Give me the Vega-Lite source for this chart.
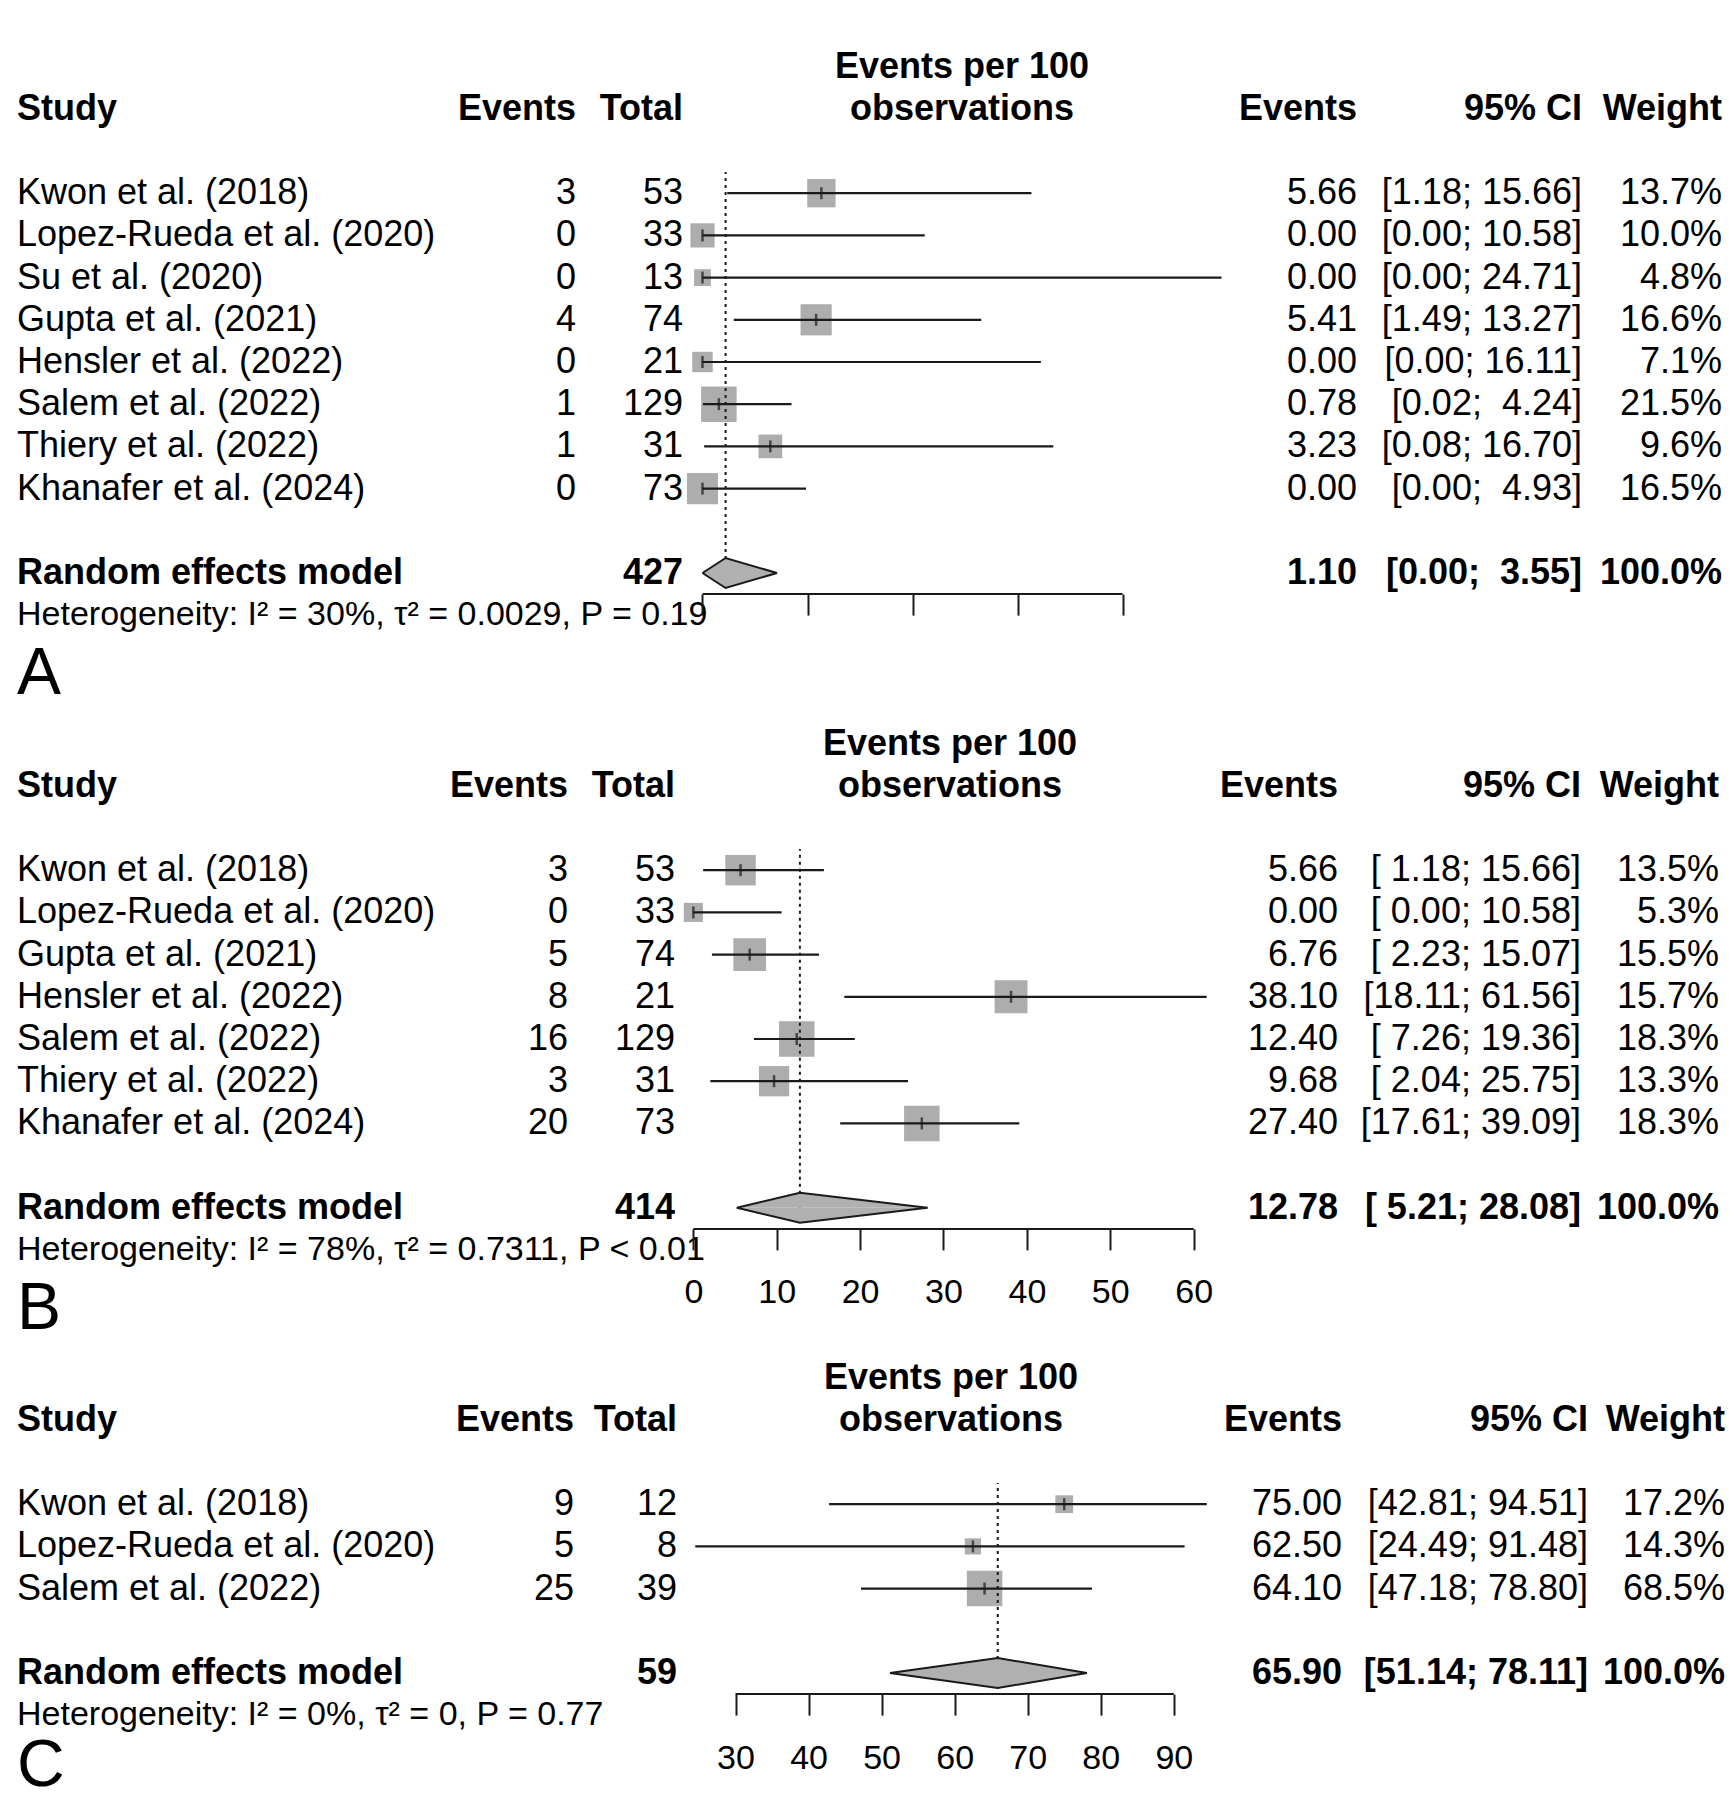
{
"$schema": "https://vega.github.io/schema/vega-lite/v6.json",
"padding": {"left": 17, "top": 45.5, "right": 0, "bottom": 0},
"background": "white",
"bounds": "full",
"spacing": 1,
"resolve": {"scale": {"size": "independent"}},
"config": {
  "view": {"stroke": null},
  "text": {"font": "Liberation Sans", "fontSize": 36, "color": "#000", "baseline": "middle"},
  "axis": {"labelFont": "Liberation Sans", "labelColor": "#000"}
},
"datasets": {
  "A": [
    {"row":"s1","kind":"study","study":"Kwon et al. (2018)","events":3,"total":53,"est":5.66,"lo":1.18,"hi":15.66,"ci":"[1.18; 15.66]","weight":0.137},
    {"row":"s2","kind":"study","study":"Lopez-Rueda et al. (2020)","events":0,"total":33,"est":0.00,"lo":0.00,"hi":10.58,"ci":"[0.00; 10.58]","weight":0.100},
    {"row":"s3","kind":"study","study":"Su et al. (2020)","events":0,"total":13,"est":0.00,"lo":0.00,"hi":24.71,"ci":"[0.00; 24.71]","weight":0.048},
    {"row":"s4","kind":"study","study":"Gupta et al. (2021)","events":4,"total":74,"est":5.41,"lo":1.49,"hi":13.27,"ci":"[1.49; 13.27]","weight":0.166},
    {"row":"s5","kind":"study","study":"Hensler et al. (2022)","events":0,"total":21,"est":0.00,"lo":0.00,"hi":16.11,"ci":"[0.00; 16.11]","weight":0.071},
    {"row":"s6","kind":"study","study":"Salem et al. (2022)","events":1,"total":129,"est":0.78,"lo":0.02,"hi":4.24,"ci":"[0.02;\u00a0\u00a04.24]","weight":0.215},
    {"row":"s7","kind":"study","study":"Thiery et al. (2022)","events":1,"total":31,"est":3.23,"lo":0.08,"hi":16.70,"ci":"[0.08; 16.70]","weight":0.096},
    {"row":"s8","kind":"study","study":"Khanafer et al. (2024)","events":0,"total":73,"est":0.00,"lo":0.00,"hi":4.93,"ci":"[0.00;\u00a0\u00a04.93]","weight":0.165},
    {"row":"RE","kind":"summary","study":"Random effects model","total":427,"est":1.10,"lo":0.00,"hi":3.55,"ci":"[0.00;\u00a0\u00a03.55]","weight":1.0}
  ],
  "Adia": [{"vertex":"lower","x":0.00,"peak":0},{"vertex":"estimate","x":1.10,"peak":1},{"vertex":"upper","x":3.55,"peak":0}],
  "B": [
    {"row":"s1","kind":"study","study":"Kwon et al. (2018)","events":3,"total":53,"est":5.66,"lo":1.18,"hi":15.66,"ci":"[\u00a01.18; 15.66]","weight":0.135},
    {"row":"s2","kind":"study","study":"Lopez-Rueda et al. (2020)","events":0,"total":33,"est":0.00,"lo":0.00,"hi":10.58,"ci":"[\u00a00.00; 10.58]","weight":0.053},
    {"row":"s3","kind":"study","study":"Gupta et al. (2021)","events":5,"total":74,"est":6.76,"lo":2.23,"hi":15.07,"ci":"[\u00a02.23; 15.07]","weight":0.155},
    {"row":"s4","kind":"study","study":"Hensler et al. (2022)","events":8,"total":21,"est":38.10,"lo":18.11,"hi":61.56,"ci":"[18.11; 61.56]","weight":0.157},
    {"row":"s5","kind":"study","study":"Salem et al. (2022)","events":16,"total":129,"est":12.40,"lo":7.26,"hi":19.36,"ci":"[\u00a07.26; 19.36]","weight":0.183},
    {"row":"s6","kind":"study","study":"Thiery et al. (2022)","events":3,"total":31,"est":9.68,"lo":2.04,"hi":25.75,"ci":"[\u00a02.04; 25.75]","weight":0.133},
    {"row":"s7","kind":"study","study":"Khanafer et al. (2024)","events":20,"total":73,"est":27.40,"lo":17.61,"hi":39.09,"ci":"[17.61; 39.09]","weight":0.183},
    {"row":"RE","kind":"summary","study":"Random effects model","total":414,"est":12.78,"lo":5.21,"hi":28.08,"ci":"[\u00a05.21; 28.08]","weight":1.0}
  ],
  "Bdia": [{"vertex":"lower","x":5.21,"peak":0},{"vertex":"estimate","x":12.78,"peak":1},{"vertex":"upper","x":28.08,"peak":0}],
  "C": [
    {"row":"s1","kind":"study","study":"Kwon et al. (2018)","events":9,"total":12,"est":75.00,"lo":42.81,"hi":94.51,"ci":"[42.81; 94.51]","weight":0.172},
    {"row":"s2","kind":"study","study":"Lopez-Rueda et al. (2020)","events":5,"total":8,"est":62.50,"lo":24.49,"hi":91.48,"ci":"[24.49; 91.48]","weight":0.143},
    {"row":"s3","kind":"study","study":"Salem et al. (2022)","events":25,"total":39,"est":64.10,"lo":47.18,"hi":78.80,"ci":"[47.18; 78.80]","weight":0.685},
    {"row":"RE","kind":"summary","study":"Random effects model","total":59,"est":65.90,"lo":51.14,"hi":78.11,"ci":"[51.14; 78.11]","weight":1.0}
  ],
  "Cdia": [{"vertex":"lower","x":51.14,"peak":0},{"vertex":"estimate","x":65.90,"peak":1},{"vertex":"upper","x":78.11,"peak":0}]
},
"vconcat": [
{
  "bounds": "flush", "spacing": 0,
  "data": {"name": "A"},
  "hconcat": [
    {"width": 559, "height": 675.2,
     "encoding": {"y": {"field":"row","type":"nominal","scale":{"type":"band","domain":["h1","h0","b1","s1","s2","s3","s4","s5","s6","s7","s8","b2","RE","het","tl","lab"],"paddingInner":0,"paddingOuter":0},"axis":null}},
     "layer": [
       {"data":{"values":[{"row":"h0","label":"Study"}]},"mark":{"type":"text","align":"left","fontWeight":"bold"},"encoding":{"x":{"value":0},"text":{"field":"label","type":"nominal"}}},
       {"data":{"values":[{"row":"h0","label":"Events"}]},"mark":{"type":"text","align":"right","fontWeight":"bold"},"encoding":{"x":{"value":"width"},"text":{"field":"label","type":"nominal"}}},
       {"transform":[{"filter":"datum.kind == 'study'"}],"mark":{"type":"text","align":"left"},"encoding":{"x":{"value":0},"text":{"field":"study","type":"nominal"}}},
       {"transform":[{"filter":"datum.kind == 'summary'"}],"mark":{"type":"text","align":"left","fontWeight":"bold"},"encoding":{"x":{"value":0},"text":{"field":"study","type":"nominal"}}},
       {"transform":[{"filter":"datum.kind == 'study'"}],"mark":{"type":"text","align":"right"},"encoding":{"x":{"value":"width"},"text":{"field":"events","type":"quantitative"}}},
       {"data":{"values":[{"row":"het","label":"Heterogeneity: I² = 30%, τ² = 0.0029, P = 0.19"}]},"mark":{"type":"text","align":"left","fontSize":34},"encoding":{"x":{"value":0},"text":{"field":"label","type":"nominal"}}},
       {"data":{"values":[{"row":"tl","label":"A"}]},"mark":{"type":"text","align":"left","fontSize":66},"encoding":{"x":{"value":0},"y":{"field":"row","type":"nominal","bandPosition":0.9,"scale":{"type":"band","domain":["h1","h0","b1","s1","s2","s3","s4","s5","s6","s7","s8","b2","RE","het","tl","lab"],"paddingInner":0,"paddingOuter":0},"axis":null},"text":{"field":"label","type":"nominal"}}}
     ]},
    {"width": 107, "height": 675.2,
     "encoding": {"y": {"field":"row","type":"nominal","scale":{"type":"band","domain":["h1","h0","b1","s1","s2","s3","s4","s5","s6","s7","s8","b2","RE","het","tl","lab"],"paddingInner":0,"paddingOuter":0},"axis":null}},
     "layer": [
       {"data":{"values":[{"row":"h0","label":"Total"}]},"mark":{"type":"text","align":"right","fontWeight":"bold"},"encoding":{"x":{"value":"width"},"text":{"field":"label","type":"nominal"}}},
       {"transform":[{"filter":"datum.kind == 'study'"}],"mark":{"type":"text","align":"right"},"encoding":{"x":{"value":"width"},"text":{"field":"total","type":"quantitative"}}},
       {"transform":[{"filter":"datum.kind == 'summary'"}],"mark":{"type":"text","align":"right","fontWeight":"bold"},"encoding":{"x":{"value":"width"},"text":{"field":"total","type":"quantitative"}}}
     ]},
    {"width": 558, "height": 675.2,
     "resolve": {"scale": {"y": "independent"}},
     "encoding": {"y": {"field":"row","type":"nominal","scale":{"type":"band","domain":["h1","h0","b1","s1","s2","s3","s4","s5","s6","s7","s8","b2","RE","het","tl","lab"],"paddingInner":0,"paddingOuter":0},"axis":null}},
     "layer": [
       {"data":{"values":[{"row":"h1","label":"Events per 100"},{"row":"h0","label":"observations"}]},"mark":{"type":"text","fontWeight":"bold","align":"center"},"encoding":{"text":{"field":"label","type":"nominal"}}},
       {"transform":[{"filter":"datum.kind == 'study'"}],"mark":{"type":"square","color":"#adadad","opacity":1},
        "encoding":{"x":{"field":"est","type":"quantitative","title":null,"scale":{"domain":[-0.928,25.638],"nice":false,"zero":false},"axis":{"values":[0,5,10,15,20],"labels":false,"domain":false,"grid":false,"ticks":true,"tickSize":21,"tickWidth":2,"tickColor":"#1a1a1a","offset":-126.6,"title":null}},
          "size":{"field":"weight","type":"quantitative","scale":{"domain":[0,0.215],"range":[0,1260]},"legend":null}}},
       {"transform":[{"filter":"datum.kind == 'study'"}],"mark":{"type":"rule","color":"#1a1a1a","strokeWidth":2.2},
        "encoding":{"x":{"field":"lo","type":"quantitative","title":null,"scale":{"domain":[-0.928,25.638],"nice":false,"zero":false},"axis":{"values":[0,5,10,15,20],"labels":false,"domain":false,"grid":false,"ticks":true,"tickSize":21,"tickWidth":2,"tickColor":"#1a1a1a","offset":-126.6,"title":null}},"x2":{"field":"hi"}}},
       {"transform":[{"filter":"datum.kind == 'study'"}],"mark":{"type":"tick","color":"#1a1a1a","thickness":2.5,"size":12},
        "encoding":{"x":{"field":"est","type":"quantitative","title":null,"scale":{"domain":[-0.928,25.638],"nice":false,"zero":false},"axis":{"values":[0,5,10,15,20],"labels":false,"domain":false,"grid":false,"ticks":true,"tickSize":21,"tickWidth":2,"tickColor":"#1a1a1a","offset":-126.6,"title":null}}}},
       {"transform":[{"filter":"datum.kind == 'summary'"}],"mark":{"type":"rule","color":"#1a1a1a","strokeWidth":2,"strokeDash":[3,4]},
        "encoding":{"x":{"field":"est","type":"quantitative","title":null,"scale":{"domain":[-0.928,25.638],"nice":false,"zero":false},"axis":{"values":[0,5,10,15,20],"labels":false,"domain":false,"grid":false,"ticks":true,"tickSize":21,"tickWidth":2,"tickColor":"#1a1a1a","offset":-126.6,"title":null}},"y2":{"datum":"s1","bandPosition":0}}},
       {"data":{"name":"Adia"},"mark":{"type":"area","color":"#b0b0b0","opacity":1},
        "encoding":{"x":{"field":"x","type":"quantitative","title":null,"scale":{"domain":[-0.928,25.638],"nice":false,"zero":false},"axis":{"values":[0,5,10,15,20],"labels":false,"domain":false,"grid":false,"ticks":true,"tickSize":21,"tickWidth":2,"tickColor":"#1a1a1a","offset":-126.6,"title":null}},
          "y":{"field":"peak","type":"quantitative","scale":{"domain":[-9.8467,35.1667],"nice":false,"zero":false},"axis":null},"y2":{"datum":0}}},
       {"data":{"name":"Adia"},"mark":{"type":"area","color":"#b0b0b0","opacity":1},
        "encoding":{"x":{"field":"x","type":"quantitative","title":null,"scale":{"domain":[-0.928,25.638],"nice":false,"zero":false},"axis":{"values":[0,5,10,15,20],"labels":false,"domain":false,"grid":false,"ticks":true,"tickSize":21,"tickWidth":2,"tickColor":"#1a1a1a","offset":-126.6,"title":null}},
          "y":{"field":"peak","type":"quantitative","scale":{"domain":[-35.1667,9.8467],"nice":false,"zero":false,"reverse":true},"axis":null},"y2":{"datum":0}}},
       {"data":{"name":"Adia"},"mark":{"type":"line","color":"#1a1a1a","strokeWidth":2},
        "encoding":{"x":{"field":"x","type":"quantitative","title":null,"scale":{"domain":[-0.928,25.638],"nice":false,"zero":false},"axis":{"values":[0,5,10,15,20],"labels":false,"domain":false,"grid":false,"ticks":true,"tickSize":21,"tickWidth":2,"tickColor":"#1a1a1a","offset":-126.6,"title":null}},
          "y":{"field":"peak","type":"quantitative","scale":{"domain":[-9.8467,35.1667],"nice":false,"zero":false},"axis":null}}},
       {"data":{"name":"Adia"},"mark":{"type":"line","color":"#1a1a1a","strokeWidth":2},
        "encoding":{"x":{"field":"x","type":"quantitative","title":null,"scale":{"domain":[-0.928,25.638],"nice":false,"zero":false},"axis":{"values":[0,5,10,15,20],"labels":false,"domain":false,"grid":false,"ticks":true,"tickSize":21,"tickWidth":2,"tickColor":"#1a1a1a","offset":-126.6,"title":null}},
          "y":{"field":"peak","type":"quantitative","scale":{"domain":[-35.1667,9.8467],"nice":false,"zero":false,"reverse":true},"axis":null}}},
       {"data":{"values":[{"from":0,"to":20}]},"mark":{"type":"rule","color":"#1a1a1a","strokeWidth":2},
        "encoding":{"x":{"field":"from","type":"quantitative","title":null,"scale":{"domain":[-0.928,25.638],"nice":false,"zero":false},"axis":{"values":[0,5,10,15,20],"labels":false,"domain":false,"grid":false,"ticks":true,"tickSize":21,"tickWidth":2,"tickColor":"#1a1a1a","offset":-126.6,"title":null}},"x2":{"field":"to"},
          "y":{"datum":"het","type":"nominal","bandPosition":0,"scale":{"type":"band","domain":["h1","h0","b1","s1","s2","s3","s4","s5","s6","s7","s8","b2","RE","het","tl","lab"],"paddingInner":0,"paddingOuter":0},"axis":null}}}
     ]},
    {"width": 116, "height": 675.2,
     "encoding": {"y": {"field":"row","type":"nominal","scale":{"type":"band","domain":["h1","h0","b1","s1","s2","s3","s4","s5","s6","s7","s8","b2","RE","het","tl","lab"],"paddingInner":0,"paddingOuter":0},"axis":null}},
     "layer": [
       {"data":{"values":[{"row":"h0","label":"Events"}]},"mark":{"type":"text","align":"right","fontWeight":"bold"},"encoding":{"x":{"value":"width"},"text":{"field":"label","type":"nominal"}}},
       {"transform":[{"filter":"datum.kind == 'study'"}],"mark":{"type":"text","align":"right"},"encoding":{"x":{"value":"width"},"text":{"field":"est","type":"quantitative","format":".2f"}}},
       {"transform":[{"filter":"datum.kind == 'summary'"}],"mark":{"type":"text","align":"right","fontWeight":"bold"},"encoding":{"x":{"value":"width"},"text":{"field":"est","type":"quantitative","format":".2f"}}}
     ]},
    {"width": 225, "height": 675.2,
     "encoding": {"y": {"field":"row","type":"nominal","scale":{"type":"band","domain":["h1","h0","b1","s1","s2","s3","s4","s5","s6","s7","s8","b2","RE","het","tl","lab"],"paddingInner":0,"paddingOuter":0},"axis":null}},
     "layer": [
       {"data":{"values":[{"row":"h0","label":"95% CI"}]},"mark":{"type":"text","align":"right","fontWeight":"bold"},"encoding":{"x":{"value":"width"},"text":{"field":"label","type":"nominal"}}},
       {"transform":[{"filter":"datum.kind == 'study'"}],"mark":{"type":"text","align":"right"},"encoding":{"x":{"value":"width"},"text":{"field":"ci","type":"nominal"}}},
       {"transform":[{"filter":"datum.kind == 'summary'"}],"mark":{"type":"text","align":"right","fontWeight":"bold"},"encoding":{"x":{"value":"width"},"text":{"field":"ci","type":"nominal"}}}
     ]},
    {"width": 140, "height": 675.2,
     "encoding": {"y": {"field":"row","type":"nominal","scale":{"type":"band","domain":["h1","h0","b1","s1","s2","s3","s4","s5","s6","s7","s8","b2","RE","het","tl","lab"],"paddingInner":0,"paddingOuter":0},"axis":null}},
     "layer": [
       {"data":{"values":[{"row":"h0","label":"Weight"}]},"mark":{"type":"text","align":"right","fontWeight":"bold"},"encoding":{"x":{"value":"width"},"text":{"field":"label","type":"nominal"}}},
       {"transform":[{"filter":"datum.kind == 'study'"}],"mark":{"type":"text","align":"right"},"encoding":{"x":{"value":"width"},"text":{"field":"weight","type":"quantitative","format":".1%"}}},
       {"transform":[{"filter":"datum.kind == 'summary'"}],"mark":{"type":"text","align":"right","fontWeight":"bold"},"encoding":{"x":{"value":"width"},"text":{"field":"weight","type":"quantitative","format":".1%"}}}
     ]}
  ]
},
{
  "bounds": "flush", "spacing": 0,
  "data": {"name": "B"},
  "hconcat": [
    {"width": 551, "height": 633,
     "encoding": {"y": {"field":"row","type":"nominal","scale":{"type":"band","domain":["h1","h0","b1","s1","s2","s3","s4","s5","s6","s7","b2","RE","het","tl","lab"],"paddingInner":0,"paddingOuter":0},"axis":null}},
     "layer": [
       {"data":{"values":[{"row":"h0","label":"Study"}]},"mark":{"type":"text","align":"left","fontWeight":"bold"},"encoding":{"x":{"value":0},"text":{"field":"label","type":"nominal"}}},
       {"data":{"values":[{"row":"h0","label":"Events"}]},"mark":{"type":"text","align":"right","fontWeight":"bold"},"encoding":{"x":{"value":"width"},"text":{"field":"label","type":"nominal"}}},
       {"transform":[{"filter":"datum.kind == 'study'"}],"mark":{"type":"text","align":"left"},"encoding":{"x":{"value":0},"text":{"field":"study","type":"nominal"}}},
       {"transform":[{"filter":"datum.kind == 'summary'"}],"mark":{"type":"text","align":"left","fontWeight":"bold"},"encoding":{"x":{"value":0},"text":{"field":"study","type":"nominal"}}},
       {"transform":[{"filter":"datum.kind == 'study'"}],"mark":{"type":"text","align":"right"},"encoding":{"x":{"value":"width"},"text":{"field":"events","type":"quantitative"}}},
       {"data":{"values":[{"row":"het","label":"Heterogeneity: I² = 78%, τ² = 0.7311, P < 0.01"}]},"mark":{"type":"text","align":"left","fontSize":34},"encoding":{"x":{"value":0},"text":{"field":"label","type":"nominal"}}},
       {"data":{"values":[{"row":"tl","label":"B"}]},"mark":{"type":"text","align":"left","fontSize":66},"encoding":{"x":{"value":0},"y":{"field":"row","type":"nominal","bandPosition":0.9,"scale":{"type":"band","domain":["h1","h0","b1","s1","s2","s3","s4","s5","s6","s7","b2","RE","het","tl","lab"],"paddingInner":0,"paddingOuter":0},"axis":null},"text":{"field":"label","type":"nominal"}}}
     ]},
    {"width": 107, "height": 633,
     "encoding": {"y": {"field":"row","type":"nominal","scale":{"type":"band","domain":["h1","h0","b1","s1","s2","s3","s4","s5","s6","s7","b2","RE","het","tl","lab"],"paddingInner":0,"paddingOuter":0},"axis":null}},
     "layer": [
       {"data":{"values":[{"row":"h0","label":"Total"}]},"mark":{"type":"text","align":"right","fontWeight":"bold"},"encoding":{"x":{"value":"width"},"text":{"field":"label","type":"nominal"}}},
       {"transform":[{"filter":"datum.kind == 'study'"}],"mark":{"type":"text","align":"right"},"encoding":{"x":{"value":"width"},"text":{"field":"total","type":"quantitative"}}},
       {"transform":[{"filter":"datum.kind == 'summary'"}],"mark":{"type":"text","align":"right","fontWeight":"bold"},"encoding":{"x":{"value":"width"},"text":{"field":"total","type":"quantitative"}}}
     ]},
    {"width": 550, "height": 633,
     "resolve": {"scale": {"y": "independent"}},
     "encoding": {"y": {"field":"row","type":"nominal","scale":{"type":"band","domain":["h1","h0","b1","s1","s2","s3","s4","s5","s6","s7","b2","RE","het","tl","lab"],"paddingInner":0,"paddingOuter":0},"axis":null}},
     "layer": [
       {"data":{"values":[{"row":"h1","label":"Events per 100"},{"row":"h0","label":"observations"}]},"mark":{"type":"text","fontWeight":"bold","align":"center"},"encoding":{"text":{"field":"label","type":"nominal"}}},
       {"transform":[{"filter":"datum.kind == 'study'"}],"mark":{"type":"square","color":"#adadad","opacity":1},
        "encoding":{"x":{"field":"est","type":"quantitative","title":null,"scale":{"domain":[-2.2,63.76],"nice":false,"zero":false},"axis":{"values":[0,10,20,30,40,50,60],"labels":true,"labelFontSize":34,"labelPadding":26,"domain":false,"grid":false,"ticks":true,"tickSize":21,"tickWidth":2,"tickColor":"#1a1a1a","offset":-126.6,"title":null}},
          "size":{"field":"weight","type":"quantitative","scale":{"domain":[0,0.183],"range":[0,1260]},"legend":null}}},
       {"transform":[{"filter":"datum.kind == 'study'"}],"mark":{"type":"rule","color":"#1a1a1a","strokeWidth":2.2},
        "encoding":{"x":{"field":"lo","type":"quantitative","title":null,"scale":{"domain":[-2.2,63.76],"nice":false,"zero":false},"axis":{"values":[0,10,20,30,40,50,60],"labels":true,"labelFontSize":34,"labelPadding":26,"domain":false,"grid":false,"ticks":true,"tickSize":21,"tickWidth":2,"tickColor":"#1a1a1a","offset":-126.6,"title":null}},"x2":{"field":"hi"}}},
       {"transform":[{"filter":"datum.kind == 'study'"}],"mark":{"type":"tick","color":"#1a1a1a","thickness":2.5,"size":12},
        "encoding":{"x":{"field":"est","type":"quantitative","title":null,"scale":{"domain":[-2.2,63.76],"nice":false,"zero":false},"axis":{"values":[0,10,20,30,40,50,60],"labels":true,"labelFontSize":34,"labelPadding":26,"domain":false,"grid":false,"ticks":true,"tickSize":21,"tickWidth":2,"tickColor":"#1a1a1a","offset":-126.6,"title":null}}}},
       {"transform":[{"filter":"datum.kind == 'summary'"}],"mark":{"type":"rule","color":"#1a1a1a","strokeWidth":2,"strokeDash":[3,4]},
        "encoding":{"x":{"field":"est","type":"quantitative","title":null,"scale":{"domain":[-2.2,63.76],"nice":false,"zero":false},"axis":{"values":[0,10,20,30,40,50,60],"labels":true,"labelFontSize":34,"labelPadding":26,"domain":false,"grid":false,"ticks":true,"tickSize":21,"tickWidth":2,"tickColor":"#1a1a1a","offset":-126.6,"title":null}},"y2":{"datum":"s1","bandPosition":0}}},
       {"data":{"name":"Bdia"},"mark":{"type":"area","color":"#b0b0b0","opacity":1},
        "encoding":{"x":{"field":"x","type":"quantitative","title":null,"scale":{"domain":[-2.2,63.76],"nice":false,"zero":false},"axis":{"values":[0,10,20,30,40,50,60],"labels":true,"labelFontSize":34,"labelPadding":26,"domain":false,"grid":false,"ticks":true,"tickSize":21,"tickWidth":2,"tickColor":"#1a1a1a","offset":-126.6,"title":null}},
          "y":{"field":"peak","type":"quantitative","scale":{"domain":[-9.8467,32.3533],"nice":false,"zero":false},"axis":null},"y2":{"datum":0}}},
       {"data":{"name":"Bdia"},"mark":{"type":"area","color":"#b0b0b0","opacity":1},
        "encoding":{"x":{"field":"x","type":"quantitative","title":null,"scale":{"domain":[-2.2,63.76],"nice":false,"zero":false},"axis":{"values":[0,10,20,30,40,50,60],"labels":true,"labelFontSize":34,"labelPadding":26,"domain":false,"grid":false,"ticks":true,"tickSize":21,"tickWidth":2,"tickColor":"#1a1a1a","offset":-126.6,"title":null}},
          "y":{"field":"peak","type":"quantitative","scale":{"domain":[-32.3533,9.8467],"nice":false,"zero":false,"reverse":true},"axis":null},"y2":{"datum":0}}},
       {"data":{"name":"Bdia"},"mark":{"type":"line","color":"#1a1a1a","strokeWidth":2},
        "encoding":{"x":{"field":"x","type":"quantitative","title":null,"scale":{"domain":[-2.2,63.76],"nice":false,"zero":false},"axis":{"values":[0,10,20,30,40,50,60],"labels":true,"labelFontSize":34,"labelPadding":26,"domain":false,"grid":false,"ticks":true,"tickSize":21,"tickWidth":2,"tickColor":"#1a1a1a","offset":-126.6,"title":null}},
          "y":{"field":"peak","type":"quantitative","scale":{"domain":[-9.8467,32.3533],"nice":false,"zero":false},"axis":null}}},
       {"data":{"name":"Bdia"},"mark":{"type":"line","color":"#1a1a1a","strokeWidth":2},
        "encoding":{"x":{"field":"x","type":"quantitative","title":null,"scale":{"domain":[-2.2,63.76],"nice":false,"zero":false},"axis":{"values":[0,10,20,30,40,50,60],"labels":true,"labelFontSize":34,"labelPadding":26,"domain":false,"grid":false,"ticks":true,"tickSize":21,"tickWidth":2,"tickColor":"#1a1a1a","offset":-126.6,"title":null}},
          "y":{"field":"peak","type":"quantitative","scale":{"domain":[-32.3533,9.8467],"nice":false,"zero":false,"reverse":true},"axis":null}}},
       {"data":{"values":[{"from":0,"to":60}]},"mark":{"type":"rule","color":"#1a1a1a","strokeWidth":2},
        "encoding":{"x":{"field":"from","type":"quantitative","title":null,"scale":{"domain":[-2.2,63.76],"nice":false,"zero":false},"axis":{"values":[0,10,20,30,40,50,60],"labels":true,"labelFontSize":34,"labelPadding":26,"domain":false,"grid":false,"ticks":true,"tickSize":21,"tickWidth":2,"tickColor":"#1a1a1a","offset":-126.6,"title":null}},"x2":{"field":"to"},
          "y":{"datum":"het","type":"nominal","bandPosition":0,"scale":{"type":"band","domain":["h1","h0","b1","s1","s2","s3","s4","s5","s6","s7","b2","RE","het","tl","lab"],"paddingInner":0,"paddingOuter":0},"axis":null}}}
     ]},
    {"width": 113, "height": 633,
     "encoding": {"y": {"field":"row","type":"nominal","scale":{"type":"band","domain":["h1","h0","b1","s1","s2","s3","s4","s5","s6","s7","b2","RE","het","tl","lab"],"paddingInner":0,"paddingOuter":0},"axis":null}},
     "layer": [
       {"data":{"values":[{"row":"h0","label":"Events"}]},"mark":{"type":"text","align":"right","fontWeight":"bold"},"encoding":{"x":{"value":"width"},"text":{"field":"label","type":"nominal"}}},
       {"transform":[{"filter":"datum.kind == 'study'"}],"mark":{"type":"text","align":"right"},"encoding":{"x":{"value":"width"},"text":{"field":"est","type":"quantitative","format":".2f"}}},
       {"transform":[{"filter":"datum.kind == 'summary'"}],"mark":{"type":"text","align":"right","fontWeight":"bold"},"encoding":{"x":{"value":"width"},"text":{"field":"est","type":"quantitative","format":".2f"}}}
     ]},
    {"width": 243, "height": 633,
     "encoding": {"y": {"field":"row","type":"nominal","scale":{"type":"band","domain":["h1","h0","b1","s1","s2","s3","s4","s5","s6","s7","b2","RE","het","tl","lab"],"paddingInner":0,"paddingOuter":0},"axis":null}},
     "layer": [
       {"data":{"values":[{"row":"h0","label":"95% CI"}]},"mark":{"type":"text","align":"right","fontWeight":"bold"},"encoding":{"x":{"value":"width"},"text":{"field":"label","type":"nominal"}}},
       {"transform":[{"filter":"datum.kind == 'study'"}],"mark":{"type":"text","align":"right"},"encoding":{"x":{"value":"width"},"text":{"field":"ci","type":"nominal"}}},
       {"transform":[{"filter":"datum.kind == 'summary'"}],"mark":{"type":"text","align":"right","fontWeight":"bold"},"encoding":{"x":{"value":"width"},"text":{"field":"ci","type":"nominal"}}}
     ]},
    {"width": 138, "height": 633,
     "encoding": {"y": {"field":"row","type":"nominal","scale":{"type":"band","domain":["h1","h0","b1","s1","s2","s3","s4","s5","s6","s7","b2","RE","het","tl","lab"],"paddingInner":0,"paddingOuter":0},"axis":null}},
     "layer": [
       {"data":{"values":[{"row":"h0","label":"Weight"}]},"mark":{"type":"text","align":"right","fontWeight":"bold"},"encoding":{"x":{"value":"width"},"text":{"field":"label","type":"nominal"}}},
       {"transform":[{"filter":"datum.kind == 'study'"}],"mark":{"type":"text","align":"right"},"encoding":{"x":{"value":"width"},"text":{"field":"weight","type":"quantitative","format":".1%"}}},
       {"transform":[{"filter":"datum.kind == 'summary'"}],"mark":{"type":"text","align":"right","fontWeight":"bold"},"encoding":{"x":{"value":"width"},"text":{"field":"weight","type":"quantitative","format":".1%"}}}
     ]}
  ]
},
{
  "bounds": "flush", "spacing": 0,
  "data": {"name": "C"},
  "hconcat": [
    {"width": 557, "height": 422,
     "encoding": {"y": {"field":"row","type":"nominal","scale":{"type":"band","domain":["h1","h0","b1","s1","s2","s3","b2","RE","het","tl"],"paddingInner":0,"paddingOuter":0},"axis":null}},
     "layer": [
       {"data":{"values":[{"row":"h0","label":"Study"}]},"mark":{"type":"text","align":"left","fontWeight":"bold"},"encoding":{"x":{"value":0},"text":{"field":"label","type":"nominal"}}},
       {"data":{"values":[{"row":"h0","label":"Events"}]},"mark":{"type":"text","align":"right","fontWeight":"bold"},"encoding":{"x":{"value":"width"},"text":{"field":"label","type":"nominal"}}},
       {"transform":[{"filter":"datum.kind == 'study'"}],"mark":{"type":"text","align":"left"},"encoding":{"x":{"value":0},"text":{"field":"study","type":"nominal"}}},
       {"transform":[{"filter":"datum.kind == 'summary'"}],"mark":{"type":"text","align":"left","fontWeight":"bold"},"encoding":{"x":{"value":0},"text":{"field":"study","type":"nominal"}}},
       {"transform":[{"filter":"datum.kind == 'study'"}],"mark":{"type":"text","align":"right"},"encoding":{"x":{"value":"width"},"text":{"field":"events","type":"quantitative"}}},
       {"data":{"values":[{"row":"het","label":"Heterogeneity: I² = 0%, τ² = 0, P = 0.77"}]},"mark":{"type":"text","align":"left","fontSize":34},"encoding":{"x":{"value":0},"text":{"field":"label","type":"nominal"}}},
       {"data":{"values":[{"row":"tl","label":"C"}]},"mark":{"type":"text","align":"left","fontSize":66},"encoding":{"x":{"value":0},"y":{"field":"row","type":"nominal","bandPosition":0.7,"scale":{"type":"band","domain":["h1","h0","b1","s1","s2","s3","b2","RE","het","tl"],"paddingInner":0,"paddingOuter":0},"axis":null},"text":{"field":"label","type":"nominal"}}}
     ]},
    {"width": 103, "height": 422,
     "encoding": {"y": {"field":"row","type":"nominal","scale":{"type":"band","domain":["h1","h0","b1","s1","s2","s3","b2","RE","het","tl"],"paddingInner":0,"paddingOuter":0},"axis":null}},
     "layer": [
       {"data":{"values":[{"row":"h0","label":"Total"}]},"mark":{"type":"text","align":"right","fontWeight":"bold"},"encoding":{"x":{"value":"width"},"text":{"field":"label","type":"nominal"}}},
       {"transform":[{"filter":"datum.kind == 'study'"}],"mark":{"type":"text","align":"right"},"encoding":{"x":{"value":"width"},"text":{"field":"total","type":"quantitative"}}},
       {"transform":[{"filter":"datum.kind == 'summary'"}],"mark":{"type":"text","align":"right","fontWeight":"bold"},"encoding":{"x":{"value":"width"},"text":{"field":"total","type":"quantitative"}}}
     ]},
    {"width": 548, "height": 422,
     "resolve": {"scale": {"y": "independent"}},
     "encoding": {"y": {"field":"row","type":"nominal","scale":{"type":"band","domain":["h1","h0","b1","s1","s2","s3","b2","RE","het","tl"],"paddingInner":0,"paddingOuter":0},"axis":null}},
     "layer": [
       {"data":{"values":[{"row":"h1","label":"Events per 100"},{"row":"h0","label":"observations"}]},"mark":{"type":"text","fontWeight":"bold","align":"center"},"encoding":{"text":{"field":"label","type":"nominal"}}},
       {"transform":[{"filter":"datum.kind == 'study'"}],"mark":{"type":"square","color":"#adadad","opacity":1},
        "encoding":{"x":{"field":"est","type":"quantitative","title":null,"scale":{"domain":[21.99,97.01],"nice":false,"zero":false},"axis":{"values":[30,40,50,60,70,80,90],"labels":true,"labelFontSize":34,"labelPadding":26,"domain":false,"grid":false,"ticks":true,"tickSize":21,"tickWidth":2,"tickColor":"#1a1a1a","offset":-84.4,"title":null}},
          "size":{"field":"weight","type":"quantitative","scale":{"domain":[0,0.685],"range":[0,1260]},"legend":null}}},
       {"transform":[{"filter":"datum.kind == 'study'"}],"mark":{"type":"rule","color":"#1a1a1a","strokeWidth":2.2},
        "encoding":{"x":{"field":"lo","type":"quantitative","title":null,"scale":{"domain":[21.99,97.01],"nice":false,"zero":false},"axis":{"values":[30,40,50,60,70,80,90],"labels":true,"labelFontSize":34,"labelPadding":26,"domain":false,"grid":false,"ticks":true,"tickSize":21,"tickWidth":2,"tickColor":"#1a1a1a","offset":-84.4,"title":null}},"x2":{"field":"hi"}}},
       {"transform":[{"filter":"datum.kind == 'study'"}],"mark":{"type":"tick","color":"#1a1a1a","thickness":2.5,"size":12},
        "encoding":{"x":{"field":"est","type":"quantitative","title":null,"scale":{"domain":[21.99,97.01],"nice":false,"zero":false},"axis":{"values":[30,40,50,60,70,80,90],"labels":true,"labelFontSize":34,"labelPadding":26,"domain":false,"grid":false,"ticks":true,"tickSize":21,"tickWidth":2,"tickColor":"#1a1a1a","offset":-84.4,"title":null}}}},
       {"transform":[{"filter":"datum.kind == 'summary'"}],"mark":{"type":"rule","color":"#1a1a1a","strokeWidth":2,"strokeDash":[3,4]},
        "encoding":{"x":{"field":"est","type":"quantitative","title":null,"scale":{"domain":[21.99,97.01],"nice":false,"zero":false},"axis":{"values":[30,40,50,60,70,80,90],"labels":true,"labelFontSize":34,"labelPadding":26,"domain":false,"grid":false,"ticks":true,"tickSize":21,"tickWidth":2,"tickColor":"#1a1a1a","offset":-84.4,"title":null}},"y2":{"datum":"s1","bandPosition":0}}},
       {"data":{"name":"Cdia"},"mark":{"type":"area","color":"#b0b0b0","opacity":1},
        "encoding":{"x":{"field":"x","type":"quantitative","title":null,"scale":{"domain":[21.99,97.01],"nice":false,"zero":false},"axis":{"values":[30,40,50,60,70,80,90],"labels":true,"labelFontSize":34,"labelPadding":26,"domain":false,"grid":false,"ticks":true,"tickSize":21,"tickWidth":2,"tickColor":"#1a1a1a","offset":-84.4,"title":null}},
          "y":{"field":"peak","type":"quantitative","scale":{"domain":[-7.0333,21.1],"nice":false,"zero":false},"axis":null},"y2":{"datum":0}}},
       {"data":{"name":"Cdia"},"mark":{"type":"area","color":"#b0b0b0","opacity":1},
        "encoding":{"x":{"field":"x","type":"quantitative","title":null,"scale":{"domain":[21.99,97.01],"nice":false,"zero":false},"axis":{"values":[30,40,50,60,70,80,90],"labels":true,"labelFontSize":34,"labelPadding":26,"domain":false,"grid":false,"ticks":true,"tickSize":21,"tickWidth":2,"tickColor":"#1a1a1a","offset":-84.4,"title":null}},
          "y":{"field":"peak","type":"quantitative","scale":{"domain":[-21.1,7.0333],"nice":false,"zero":false,"reverse":true},"axis":null},"y2":{"datum":0}}},
       {"data":{"name":"Cdia"},"mark":{"type":"line","color":"#1a1a1a","strokeWidth":2},
        "encoding":{"x":{"field":"x","type":"quantitative","title":null,"scale":{"domain":[21.99,97.01],"nice":false,"zero":false},"axis":{"values":[30,40,50,60,70,80,90],"labels":true,"labelFontSize":34,"labelPadding":26,"domain":false,"grid":false,"ticks":true,"tickSize":21,"tickWidth":2,"tickColor":"#1a1a1a","offset":-84.4,"title":null}},
          "y":{"field":"peak","type":"quantitative","scale":{"domain":[-7.0333,21.1],"nice":false,"zero":false},"axis":null}}},
       {"data":{"name":"Cdia"},"mark":{"type":"line","color":"#1a1a1a","strokeWidth":2},
        "encoding":{"x":{"field":"x","type":"quantitative","title":null,"scale":{"domain":[21.99,97.01],"nice":false,"zero":false},"axis":{"values":[30,40,50,60,70,80,90],"labels":true,"labelFontSize":34,"labelPadding":26,"domain":false,"grid":false,"ticks":true,"tickSize":21,"tickWidth":2,"tickColor":"#1a1a1a","offset":-84.4,"title":null}},
          "y":{"field":"peak","type":"quantitative","scale":{"domain":[-21.1,7.0333],"nice":false,"zero":false,"reverse":true},"axis":null}}},
       {"data":{"values":[{"from":30,"to":90}]},"mark":{"type":"rule","color":"#1a1a1a","strokeWidth":2},
        "encoding":{"x":{"field":"from","type":"quantitative","title":null,"scale":{"domain":[21.99,97.01],"nice":false,"zero":false},"axis":{"values":[30,40,50,60,70,80,90],"labels":true,"labelFontSize":34,"labelPadding":26,"domain":false,"grid":false,"ticks":true,"tickSize":21,"tickWidth":2,"tickColor":"#1a1a1a","offset":-84.4,"title":null}},"x2":{"field":"to"},
          "y":{"datum":"het","type":"nominal","bandPosition":0,"scale":{"type":"band","domain":["h1","h0","b1","s1","s2","s3","b2","RE","het","tl"],"paddingInner":0,"paddingOuter":0},"axis":null}}}
     ]},
    {"width": 117, "height": 422,
     "encoding": {"y": {"field":"row","type":"nominal","scale":{"type":"band","domain":["h1","h0","b1","s1","s2","s3","b2","RE","het","tl"],"paddingInner":0,"paddingOuter":0},"axis":null}},
     "layer": [
       {"data":{"values":[{"row":"h0","label":"Events"}]},"mark":{"type":"text","align":"right","fontWeight":"bold"},"encoding":{"x":{"value":"width"},"text":{"field":"label","type":"nominal"}}},
       {"transform":[{"filter":"datum.kind == 'study'"}],"mark":{"type":"text","align":"right"},"encoding":{"x":{"value":"width"},"text":{"field":"est","type":"quantitative","format":".2f"}}},
       {"transform":[{"filter":"datum.kind == 'summary'"}],"mark":{"type":"text","align":"right","fontWeight":"bold"},"encoding":{"x":{"value":"width"},"text":{"field":"est","type":"quantitative","format":".2f"}}}
     ]},
    {"width": 246, "height": 422,
     "encoding": {"y": {"field":"row","type":"nominal","scale":{"type":"band","domain":["h1","h0","b1","s1","s2","s3","b2","RE","het","tl"],"paddingInner":0,"paddingOuter":0},"axis":null}},
     "layer": [
       {"data":{"values":[{"row":"h0","label":"95% CI"}]},"mark":{"type":"text","align":"right","fontWeight":"bold"},"encoding":{"x":{"value":"width"},"text":{"field":"label","type":"nominal"}}},
       {"transform":[{"filter":"datum.kind == 'study'"}],"mark":{"type":"text","align":"right"},"encoding":{"x":{"value":"width"},"text":{"field":"ci","type":"nominal"}}},
       {"transform":[{"filter":"datum.kind == 'summary'"}],"mark":{"type":"text","align":"right","fontWeight":"bold"},"encoding":{"x":{"value":"width"},"text":{"field":"ci","type":"nominal"}}}
     ]},
    {"width": 137, "height": 422,
     "encoding": {"y": {"field":"row","type":"nominal","scale":{"type":"band","domain":["h1","h0","b1","s1","s2","s3","b2","RE","het","tl"],"paddingInner":0,"paddingOuter":0},"axis":null}},
     "layer": [
       {"data":{"values":[{"row":"h0","label":"Weight"}]},"mark":{"type":"text","align":"right","fontWeight":"bold"},"encoding":{"x":{"value":"width"},"text":{"field":"label","type":"nominal"}}},
       {"transform":[{"filter":"datum.kind == 'study'"}],"mark":{"type":"text","align":"right"},"encoding":{"x":{"value":"width"},"text":{"field":"weight","type":"quantitative","format":".1%"}}},
       {"transform":[{"filter":"datum.kind == 'summary'"}],"mark":{"type":"text","align":"right","fontWeight":"bold"},"encoding":{"x":{"value":"width"},"text":{"field":"weight","type":"quantitative","format":".1%"}}}
     ]}
  ]
}
]
}
